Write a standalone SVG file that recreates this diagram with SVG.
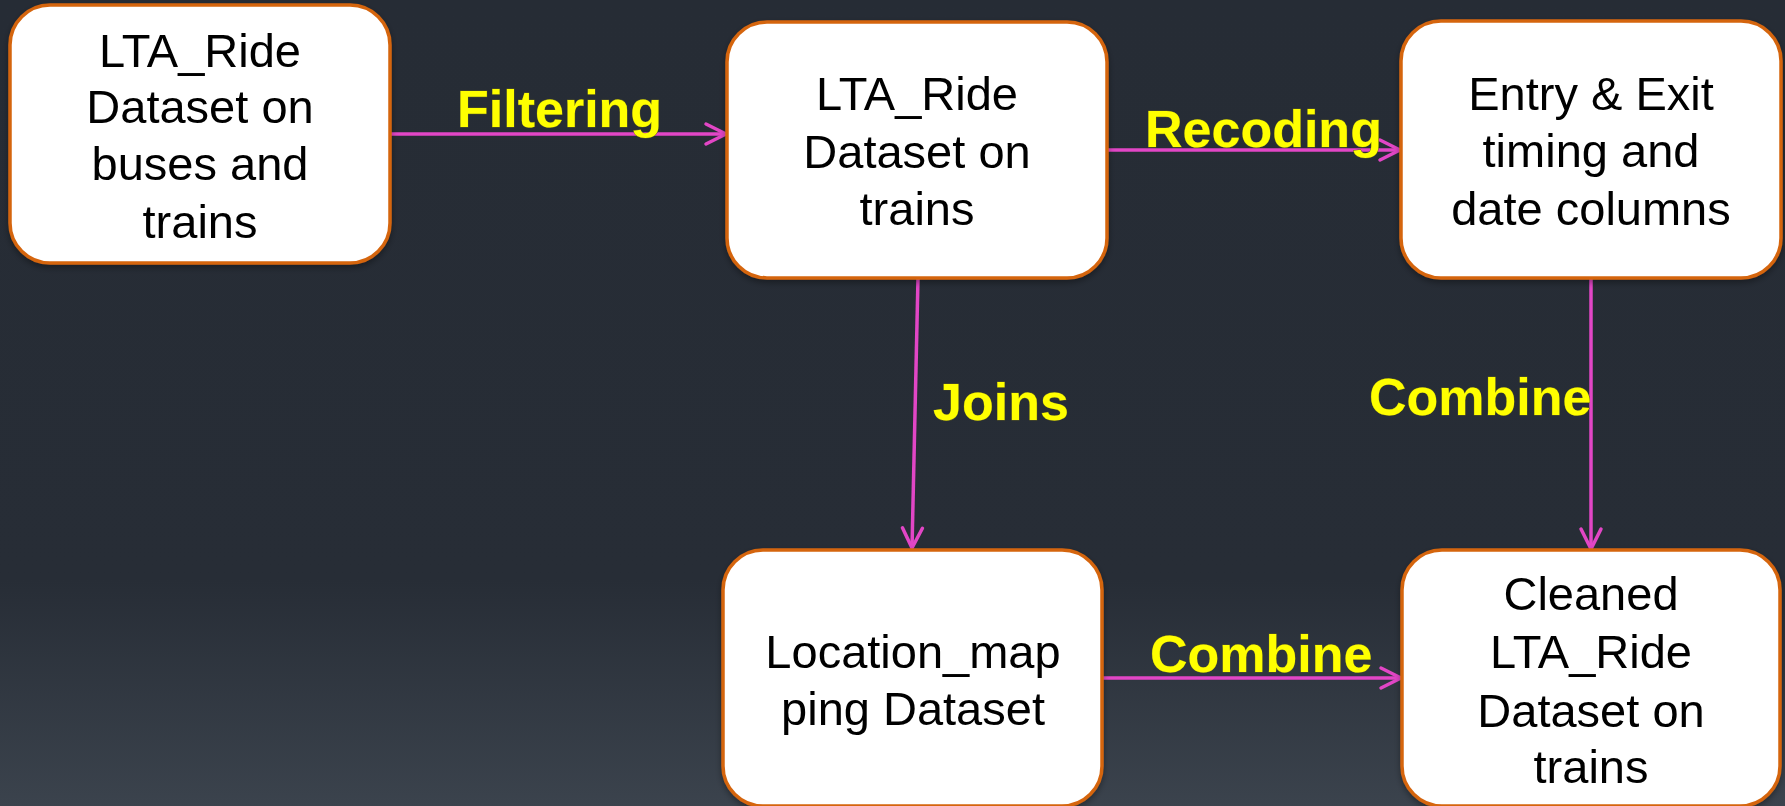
<svg xmlns="http://www.w3.org/2000/svg" width="1785" height="806" viewBox="0 0 1785 806">
  <defs>
    <linearGradient id="bg" x1="0" y1="0" x2="0" y2="1">
      <stop offset="0" stop-color="#262c35"/>
      <stop offset="0.72" stop-color="#272d36"/>
      <stop offset="1" stop-color="#3b434d"/>
    </linearGradient>
    <marker id="arrow" viewBox="-24 -14 28 28" refX="0" refY="0" markerWidth="28" markerHeight="28" markerUnits="userSpaceOnUse" orient="auto">
      <path d="M-20,-10 L0,0 L-20,10" fill="none" stroke="#e246c6" stroke-width="3.5" stroke-linecap="round" stroke-linejoin="round"/>
    </marker>
    <filter id="shadow" x="-10%" y="-10%" width="120%" height="130%">
      <feDropShadow dx="0" dy="3" stdDeviation="3" flood-color="#000" flood-opacity="0.35"/>
    </filter>
  </defs>
  <style>
    .box { fill: #ffffff; stroke: #d5650f; stroke-width: 3.5; }
    .ntext { font-family: "Liberation Sans", Arial, sans-serif; font-size: 47px; fill: #000000; text-anchor: middle; }
    .edge { fill: none; stroke: #e246c6; stroke-width: 3.5; marker-end: url(#arrow); }
    .elabel { font-family: "Liberation Sans", Arial, sans-serif; font-size: 52px; font-weight: bold; fill: #ffff00; stroke: #5a5a20; stroke-width: 0.8; paint-order: stroke; }
  </style>
  <rect x="0" y="0" width="1785" height="806" fill="url(#bg)"/>

  <g id="connectors">
    <g id="e-filtering">
      <line class="edge" x1="390" y1="134" x2="726" y2="134"/>
      <text class="elabel" x="457" y="127">Filtering</text>
    </g>
    <g id="e-recoding">
      <line class="edge" x1="1107" y1="150" x2="1400" y2="150"/>
      <text class="elabel" x="1145" y="147">Recoding</text>
    </g>
    <g id="e-joins">
      <line class="edge" x1="918" y1="278" x2="912" y2="548"/>
      <text class="elabel" x="933" y="420">Joins</text>
    </g>
    <g id="e-combine-v">
      <line class="edge" x1="1591" y1="278" x2="1591" y2="549"/>
      <text class="elabel" x="1369" y="415">Combine</text>
    </g>
    <g id="e-combine-h">
      <line class="edge" x1="1102" y1="678" x2="1401" y2="678"/>
      <text class="elabel" x="1150" y="672">Combine</text>
    </g>
  </g>

  <g id="node-lta-all" filter="url(#shadow)">
    <rect class="box" x="10" y="5" width="380" height="258" rx="40" ry="40"/>
    <text class="ntext" x="200" y="67">LTA_Ride</text>
    <text class="ntext" x="200" y="123">Dataset on</text>
    <text class="ntext" x="200" y="180">buses and</text>
    <text class="ntext" x="200" y="238">trains</text>
  </g>

  <g id="node-lta-trains" filter="url(#shadow)">
    <rect class="box" x="727" y="22" width="380" height="256" rx="40" ry="40"/>
    <text class="ntext" x="917" y="110">LTA_Ride</text>
    <text class="ntext" x="917" y="168">Dataset on</text>
    <text class="ntext" x="917" y="225">trains</text>
  </g>

  <g id="node-entry-exit" filter="url(#shadow)">
    <rect class="box" x="1401" y="21" width="380" height="257" rx="40" ry="40"/>
    <text class="ntext" x="1591" y="110">Entry &amp; Exit</text>
    <text class="ntext" x="1591" y="167">timing and</text>
    <text class="ntext" x="1591" y="225">date columns</text>
  </g>

  <g id="node-location" filter="url(#shadow)">
    <rect class="box" x="723" y="550" width="379" height="256" rx="40" ry="40"/>
    <text class="ntext" x="913" y="668">Location_map</text>
    <text class="ntext" x="913" y="725">ping Dataset</text>
  </g>

  <g id="node-cleaned" filter="url(#shadow)">
    <rect class="box" x="1402" y="550" width="378" height="256" rx="40" ry="40"/>
    <text class="ntext" x="1591" y="610">Cleaned</text>
    <text class="ntext" x="1591" y="668">LTA_Ride</text>
    <text class="ntext" x="1591" y="727">Dataset on</text>
    <text class="ntext" x="1591" y="783">trains</text>
  </g>
</svg>
